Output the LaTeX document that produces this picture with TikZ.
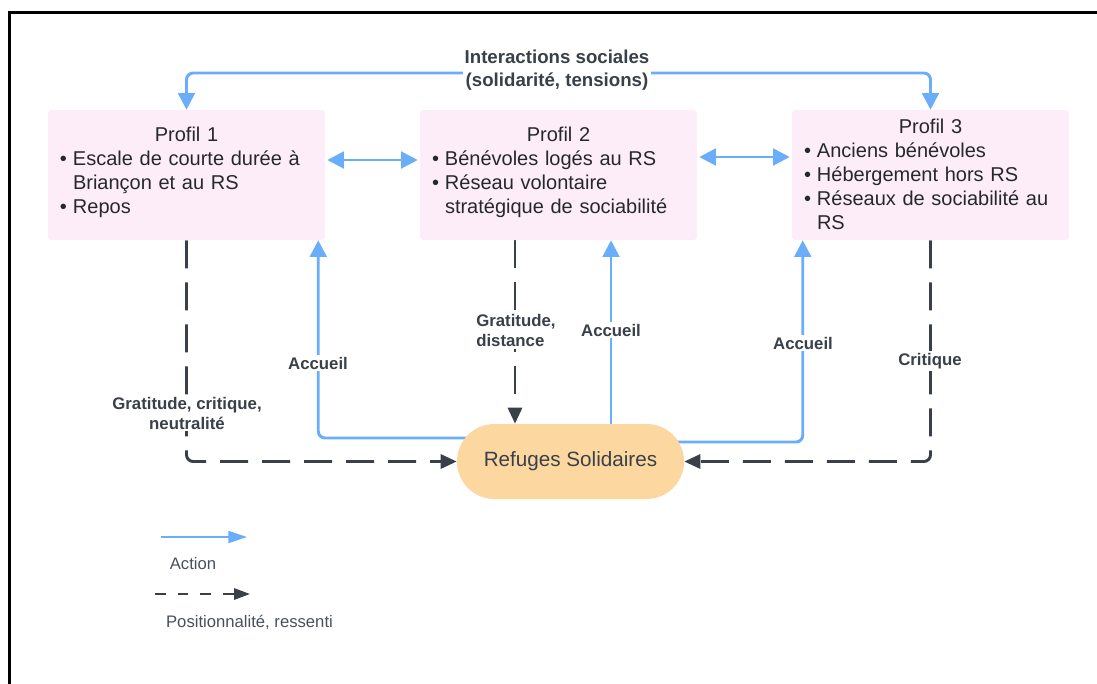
\documentclass[tikz,border=0pt]{standalone}
\usepackage{fontspec}
\setmainfont{Liberation Sans}
\usetikzlibrary{arrows.meta,backgrounds}
\definecolor{bl}{HTML}{6AADFA}
\definecolor{dk}{HTML}{3A4049}
\definecolor{pk}{HTML}{FDEDF8}
\definecolor{og}{HTML}{FCD8A0}
\definecolor{tx}{HTML}{25282D}
\definecolor{lgc}{HTML}{4A5058}
\newcommand{\bul}{\makebox[9.75pt][l]{•}}
\newcommand{\ind}{\hspace*{9.75pt}}
\begin{document}
\begin{tikzpicture}[x=0.75pt,y=-0.75pt,
  box/.style={fill=pk, rounded corners=2.5pt, minimum width=207.75pt, minimum height=97.5pt, inner sep=0pt},
  boxtxt/.style={text=tx, text width=189.75pt, align=left, font=\fontsize{15}{18}\selectfont, inner sep=0pt},
  refuge/.style={fill=og, rounded corners=28pt, minimum width=170.25pt, minimum height=56.25pt, inner sep=0pt, text=dk, font=\fontsize{15.5}{18}\selectfont},
  lbl/.style={fill=white, text=dk, font=\bfseries\fontsize{12.6}{15}\selectfont, align=center, inner sep=1.5pt},
  leg/.style={text=lgc, font=\fontsize{12.5}{15}\selectfont, inner sep=0pt},
  act/.style={draw=bl, line width=2.2pt, arrows={-Triangle[length=12.5pt,width=12.5pt]}},
  actb/.style={act, arrows={Triangle[length=12.5pt,width=12.5pt]-Triangle[length=12.5pt,width=12.5pt]}},
  posl/.style={draw=dk, line width=2.2pt, dash pattern=on 21pt off 10.5pt, arrows={-Triangle[length=12pt,width=10.5pt]}}
]
\useasboundingbox (0,0) rectangle (1097,683);
% frame
\draw[black, line width=2.25pt] (9,690) -- (9,12) -- (1100,12);

% boxes
\node[box] (p1) at (186.5,175) {};
\node[box] (p2) at (558.5,175) {};
\node[box] (p3) at (930.5,175) {};
\node[boxtxt] (t1) at (186.5,172.5) {\makebox[\hsize][c]{Profil 1}\\
\bul Escale de courte durée à\\
\ind Briançon et au RS\\
\bul Repos};
\node[boxtxt] (t2) at (558.5,172.5) {\makebox[\hsize][c]{Profil 2}\\
\bul Bénévoles logés au RS\\
\bul Réseau volontaire\\
\ind stratégique de sociabilité};
\node[boxtxt] (t3) at (930.5,174) {\makebox[\hsize][c]{Profil 3}\\
\bul Anciens bénévoles\\
\bul Hébergement hors RS\\
\bul Réseaux de sociabilité au\\
\ind RS};

\node[refuge] (rs) at (570.5,461.5) {Refuges Solidaires};

% labels
\node[lbl, font=\bfseries\fontsize{14}{17.25}\selectfont] (lint) at (557,70.5) {Interactions sociales\\(solidarité, tensions)};
\node[lbl] (lg1) at (187,413) {Gratitude, critique,\\neutralité};
\node[lbl] (la1) at (318,363) {Accueil};
\node[lbl, align=left, anchor=west] (lg2) at (474,330.5) {Gratitude,\\distance};
\node[lbl] (la2) at (611,330) {Accueil};
\node[lbl] (la3) at (803,343) {Accueil};
\node[lbl] (lcr) at (930,361) {Critique};

% helper coordinates
\coordinate (top) at ([yshift=-1.875pt]lint.center);
\coordinate (s1) at ([yshift=17.625pt]rs.center);
\coordinate (e1) at ([xshift=-5.25pt]p1.south east);
\coordinate (c2) at ([xshift=-32.625pt]p2.south);
\coordinate (e2) at ([xshift=39.375pt]p2.south);
\coordinate (s3) at ([yshift=14.625pt]rs.center);
\coordinate (e3) at ([xshift=8.25pt]p3.south west);

\begin{scope}[on background layer]
\draw[actb, rounded corners=5pt] (p1.north) |- (top) -| (p3.north);
\draw[actb, shorten <=1.5pt, shorten >=1.5pt] ([yshift=11.25pt]p1.east) -- ([yshift=11.25pt]p2.west);
\draw[actb, shorten <=1.5pt, shorten >=1.5pt] ([yshift=13.5pt]p2.east) -- ([yshift=13.5pt]p3.west);
\draw[posl, rounded corners=5pt] (p1.south) |- (rs.west);
\draw[posl, rounded corners=5pt] (p3.south) |- (rs.east);
\draw[posl] (c2) -- (c2 |- rs.north);
\draw[act, rounded corners=5pt] (s1) -| (e1);
\draw[act] (e2 |- rs.center) -- (e2);
\draw[act, rounded corners=5pt] (s3) -| (e3);
\end{scope}

% legend
\coordinate (l1a) at (161,537);
\coordinate (l1b) at (247,537);
\draw[draw=bl, line width=1.6pt, arrows={-Triangle[length=14pt,width=9pt]}] (l1a) -- (l1b);
\node[leg] (lac) at (193,564) {Action};
\coordinate (l2a) at (155,594);
\coordinate (l2b) at (250,594);
\draw[draw=dk, line width=1.6pt, dash pattern=on 8pt off 9pt, arrows={-Triangle[length=12pt,width=8.5pt]}] (l2a) -- (l2b);
\node[leg] (lps) at (249.5,622) {Positionnalité, ressenti};
\end{tikzpicture}
\end{document}
